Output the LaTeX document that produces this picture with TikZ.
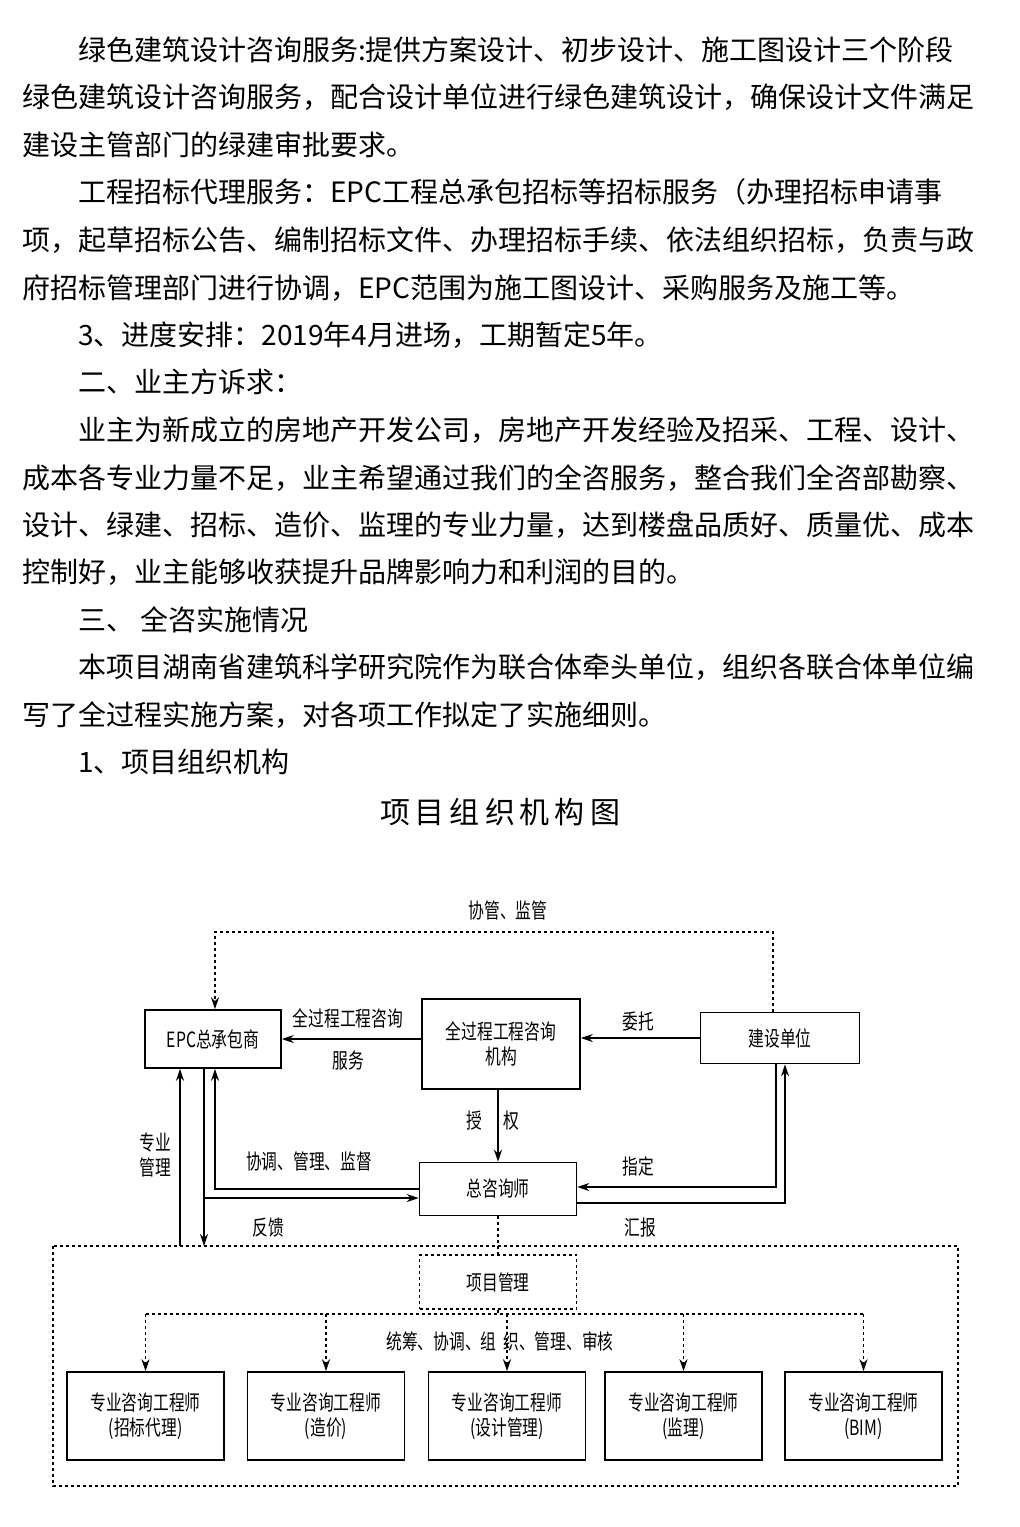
\documentclass[tikz,border=0pt]{standalone}
\usepackage{fontspec}
\setmainfont{Noto Sans CJK SC}
\newfontfamily\cjknarrow[FakeStretch=0.75]{Noto Sans CJK SC}
\usetikzlibrary{arrows.meta,positioning}

\tikzset{
  line/.style={anchor=west,inner sep=0pt,font=\fontsize{28}{28}\selectfont},
  box/.style={draw,line width=1.6pt,minimum width=#1,font=\cjknarrow\fontsize{21}{25}\selectfont,align=center,inner sep=2pt},
  dbox/.style={draw,line width=1.5pt,dash pattern=on 3pt off 3pt,minimum width=#1,font=\cjknarrow\fontsize{21}{25}\selectfont,align=center},
  lbl/.style={font=\cjknarrow\fontsize{21}{25}\selectfont,align=center,inner sep=1pt},
  arr/.style={line width=1.4pt,-{Stealth[length=12pt,width=8pt]}},
  darr/.style={line width=1.4pt,dash pattern=on 3pt off 3pt,-{Stealth[length=12pt,width=8pt]}},
  dline/.style={line width=1.5pt,dash pattern=on 3pt off 3pt}
}

\begin{document}
\begin{tikzpicture}[x=1pt,y=-1pt]
\useasboundingbox[fill=white] (0,0) rectangle (1020,1527);

% text above the chart
\node[line] (t1) at (78,50) {绿色建筑设计咨询服务:提供方案设计、初步设计、施工图设计三个阶段};
\node[line] (t2) at (22,97) {绿色建筑设计咨询服务，配合设计单位进行绿色建筑设计，确保设计文件满足};
\node[line] (t3) at (22,145) {建设主管部门的绿建审批要求。};
\node[line] (t4) at (78,192) {工程招标代理服务：EPC工程总承包招标等招标服务（办理招标申请事};
\node[line] (t5) at (22,240) {项，起草招标公告、编制招标文件、办理招标手续、依法组织招标，负责与政};
\node[line] (t6) at (22,288) {府招标管理部门进行协调，EPC范围为施工图设计、采购服务及施工等。};
\node[line] (t7) at (78,335) {3、进度安排：2019年4月进场，工期暂定5年。};
\node[line] (t8) at (78,382) {二、业主方诉求：};
\node[line] (t9) at (78,430) {业主为新成立的房地产开发公司，房地产开发经验及招采、工程、设计、};
\node[line] (t10) at (22,478) {成本各专业力量不足，业主希望通过我们的全咨服务，整合我们全咨部勘察、};
\node[line] (t11) at (22,525) {设计、绿建、招标、造价、监理的专业力量，达到楼盘品质好、质量优、成本};
\node[line] (t12) at (22,572) {控制好，业主能够收获提升品牌影响力和利润的目的。};
\node[line] (t13) at (78,620) {三、 全咨实施情况};
\node[line] (t14) at (78,667) {本项目湖南省建筑科学研究院作为联合体牵头单位，组织各联合体单位编};
\node[line] (t15) at (22,715) {写了全过程实施方案，对各项工作拟定了实施细则。};
\node[line] (t16) at (78,762) {1、项目组织机构};
\node[font=\fontsize{30}{30}\selectfont] (title) at (500,812) {项\,目\,组\,织\,机\,构\,图};

% chart
\node[box=136pt,minimum height=58pt] (epc) at (213,1039) {EPC总承包商};
\node[box=158pt,minimum height=90pt] (org) at (501,1044) {全过程工程咨询\\机构};
\node[box=159pt,minimum height=51pt] (js) at (780,1038) {建设单位};
\node[box=157pt,minimum height=53pt] (zong) at (498,1189) {总咨询师};
\node[dbox=157pt,minimum height=54pt] (xmgl) at (498,1282) {项目管理};
\draw[dline] (53,1246) rectangle (958,1486);

\foreach \i/\x/\t in {1/145.5/招标代理,2/326/造价,3/507/设计管理,4/683.5/监理,5/863.5/BIM}
  \node[box=157pt,minimum height=88pt] (b\i) at (\x,1416) {专业咨询工程师\\(\t)};

\coordinate (topL) at (215,932);
\coordinate (topR) at (773,932);
\coordinate (pm) at (180,1246);
\coordinate (fk) at (204,1246);
\coordinate (fb) at (204,1198);
\coordinate (bus) at (0,1314);

\draw[darr] (js.north -| topR) -- (topR) -- (topL) -- (topL |- epc.north);
\draw[arr] (org.west |- epc) -- (epc.east);
\draw[arr] (js.west) -- (js.west -| org.east);
\draw[arr] (org.south -| zong.north) -- (zong.north);
\draw[arr] (pm) -- (pm |- epc.south);
\draw[arr] (fk |- epc.south) -- (fk);
\draw[arr] (zong.west) -| ([xshift=2pt]epc.south);
\draw[arr] (fb) -- (fb -| zong.west);
\draw[arr] ([xshift=-4pt]js.south) |- ([yshift=2pt]zong.east);
\draw[arr] ([yshift=-14pt]zong.east) -| ([xshift=5pt]js.south);
\draw[dline] (zong.south) -- (xmgl.north);
\draw[dline] (xmgl.south) -- (xmgl.south |- bus);
\draw[dline] (b1.north |- bus) -- (b5.north |- bus);
\foreach \i in {1,...,5}
  \draw[darr] (b\i.north |- bus) -- (b\i.north);

\node[lbl] (l1) at (508,910) {协管、监管};
\node[lbl] (l2) at (348,1018) {全过程工程咨询};
\node[lbl] (l3) at (348,1061) {服务};
\node[lbl] (l4) at (638,1022) {委托};
\node[lbl] (l5) at (493,1121) {授\quad 权};
\node[lbl] (l6) at (155,1155) {专业\\管理};
\node[lbl] (l7) at (309,1161) {协调、管理、监督};
\node[lbl] (l8) at (268,1228) {反馈};
\node[lbl] (l9) at (638,1166) {指定};
\node[lbl] (l10) at (640,1228) {汇报};
\node[lbl] (l11) at (500,1341) {统筹、协调、组\,\,织、管理、审核};
\end{tikzpicture}
\end{document}
